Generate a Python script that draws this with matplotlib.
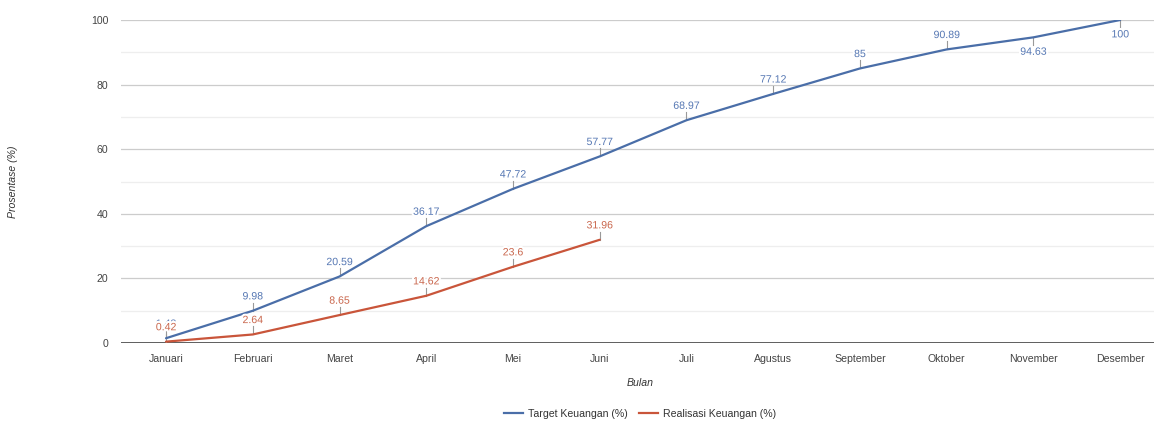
import matplotlib
matplotlib.use("Agg")
import matplotlib.pyplot as plt
import matplotlib.patheffects as pe
from matplotlib.lines import Line2D

plt.rcParams["font.family"] = ["Liberation Sans", "DejaVu Sans"]

months = ["Januari", "Februari", "Maret", "April", "Mei", "Juni", "Juli",
          "Agustus", "September", "Oktober", "November", "Desember"]
target = [1.48, 9.98, 20.59, 36.17, 47.72, 57.77, 68.97, 77.12, 85, 90.89, 94.63, 100]
realisasi = [0.42, 2.64, 8.65, 14.62, 23.6, 31.96]
target_labels = ["1.48", "9.98", "20.59", "36.17", "47.72", "57.77", "68.97",
                 "77.12", "85", "90.89", "94.63", "100"]
realisasi_labels = ["0.42", "2.64", "8.65", "14.62", "23.6", "31.96"]
series_names = ["Target Keuangan (%)", "Realisasi Keuangan (%)"]

blue = "#4a6ea8"
red = "#c9553a"
blue_txt = "#5577b3"
red_txt = "#c9664c"

W, H = 1154, 421
fig = plt.figure(figsize=(W / 100, H / 100), dpi=100)
left, right, top, bottom = 121, 1154, 20, 343
ax = fig.add_axes([left / W, 1 - bottom / H, (right - left) / W, (bottom - top) / H])

x = list(range(len(months)))
ax.set_xlim(-0.519, 11.39)
ax.set_ylim(0, 100)

for v in range(10, 100, 20):
    ax.axhline(v, color="#eeeeee", lw=0.9, zorder=0)
for v in range(20, 101, 20):
    ax.axhline(v, color="#cccccc", lw=0.9, zorder=0)
ax.axhline(0, color="#333333", lw=1.1, zorder=1)

ax.plot(x, target, color=blue, lw=1.6, zorder=3, solid_capstyle="round")
ax.plot(x[:len(realisasi)], realisasi, color=red, lw=1.6, zorder=3, solid_capstyle="round")

halo = [pe.withStroke(linewidth=3, foreground="white")]
px = (bottom - top) / 100.0  # pixels per unit
fs = 7.6


def annotate(xi, yi, text, color, below=False):
    stem = 8 / px
    if below:
        ax.plot([xi, xi], [yi, yi - stem], color="#999999", lw=0.8, zorder=2)
        ax.annotate(text, (xi, yi - stem), xytext=(0, -1), textcoords="offset points",
                    ha="center", va="top", fontsize=fs, color=color,
                    path_effects=halo, zorder=5)
    else:
        ax.plot([xi, xi], [yi, yi + stem], color="#999999", lw=0.8, zorder=2)
        ax.annotate(text, (xi, yi + stem), xytext=(0, 1), textcoords="offset points",
                    ha="center", va="bottom", fontsize=fs, color=color,
                    path_effects=halo, zorder=5)


for i, (v, t) in enumerate(zip(target, target_labels)):
    annotate(i, v, t, blue_txt, below=(i >= 10))
for i, (v, t) in enumerate(zip(realisasi, realisasi_labels)):
    annotate(i, v, t, red_txt)

ax.set_xticks(x)
ax.set_xticklabels(months)
ax.set_yticks(range(0, 101, 20))
ax.tick_params(axis="both", length=0, labelsize=fs, labelcolor="#444444")
ax.tick_params(axis="x", pad=8)
ax.tick_params(axis="y", pad=9)
for s in ax.spines.values():
    s.set_visible(False)

fig.text(640 / W, 1 - 383 / H, "Bulan", ha="center", va="center",
         fontsize=fs, style="italic", color="#333333")
fig.text(13 / W, 1 - 182 / H, "Prosentase (%)", ha="center", va="center",
         rotation=90, fontsize=fs, style="italic", color="#333333")

handles = [Line2D([], [], color=blue, lw=1.6), Line2D([], [], color=red, lw=1.6)]
fig.legend(handles, series_names, loc="center", bbox_to_anchor=(640 / W, 1 - 414 / H),
           ncol=2, frameon=False, fontsize=fs, handlelength=1.8, handletextpad=0.5,
           columnspacing=1.0, labelcolor="#333333")

fig.savefig("out.png", dpi=100, facecolor="white")
